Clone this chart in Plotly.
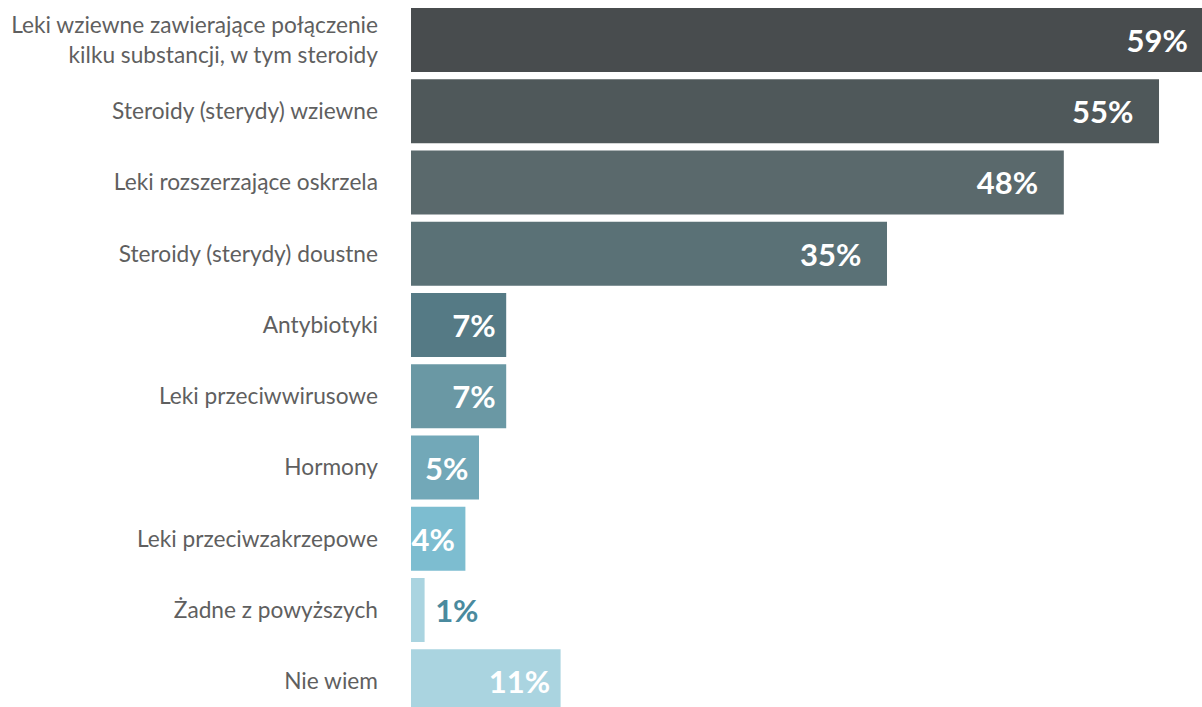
import plotly.graph_objects as go

categories = [
    "Leki wziewne zawierające połączenie<br>kilku substancji, w tym steroidy",
    "Steroidy (sterydy) wziewne",
    "Leki rozszerzające oskrzela",
    "Steroidy (sterydy) doustne",
    "Antybiotyki",
    "Leki przeciwwirusowe",
    "Hormony",
    "Leki przeciwzakrzepowe",
    "Żadne z powyższych",
    "Nie wiem",
]
values = [59, 55, 48, 35, 7, 7, 5, 4, 1, 11]
bar_colors = ["#484c4e", "#4f585a", "#5a696c", "#5a7176", "#557a85",
              "#6a98a4", "#72a8b8", "#7dbdd0", "#aad4e0", "#aad4e0"]
labels = [f"{v}%" for v in values]

NBSP = "\u00a0"
inside = [v > 2 for v in values]
# padding (in non-breaking spaces) between label and bar end
pad_n = [(3 if v >= 30 else 1) if ins else 1 for v, ins in zip(values, inside)]
bar_text = [lab + NBSP * n if ins else NBSP * n + lab
            for lab, n, ins in zip(labels, pad_n, inside)]

fig = go.Figure(go.Bar(
    y=categories, x=values, orientation="h",
    marker=dict(color=bar_colors, line=dict(width=0)),
    text=bar_text,
    textposition=["inside" if ins else "outside" for ins in inside],
    insidetextanchor="end",
    textangle=0,
    constraintext="none",
    insidetextfont=dict(family="Lato", size=31, weight="bold", color="white"),
    outsidetextfont=dict(family="Lato", size=31, weight="bold", color="#4a8a9e"),
    hoverinfo="skip",
))

fig.update_layout(
    width=1202, height=707,
    margin=dict(l=411, r=0, t=0, b=0),
    paper_bgcolor="white", plot_bgcolor="white",
    bargap=0.1,
    showlegend=False,
    xaxis=dict(range=[0, 58.16], visible=False, fixedrange=True),
    yaxis=dict(categoryorder="array", categoryarray=categories,
               range=[9.361, -0.561], showgrid=False, zeroline=False,
               showline=False, ticks="", ticklabelstandoff=32,
               tickfont=dict(family="Lato", size=22.7, color="#5f5f5f")),
)

fig.write_html("out.html")
